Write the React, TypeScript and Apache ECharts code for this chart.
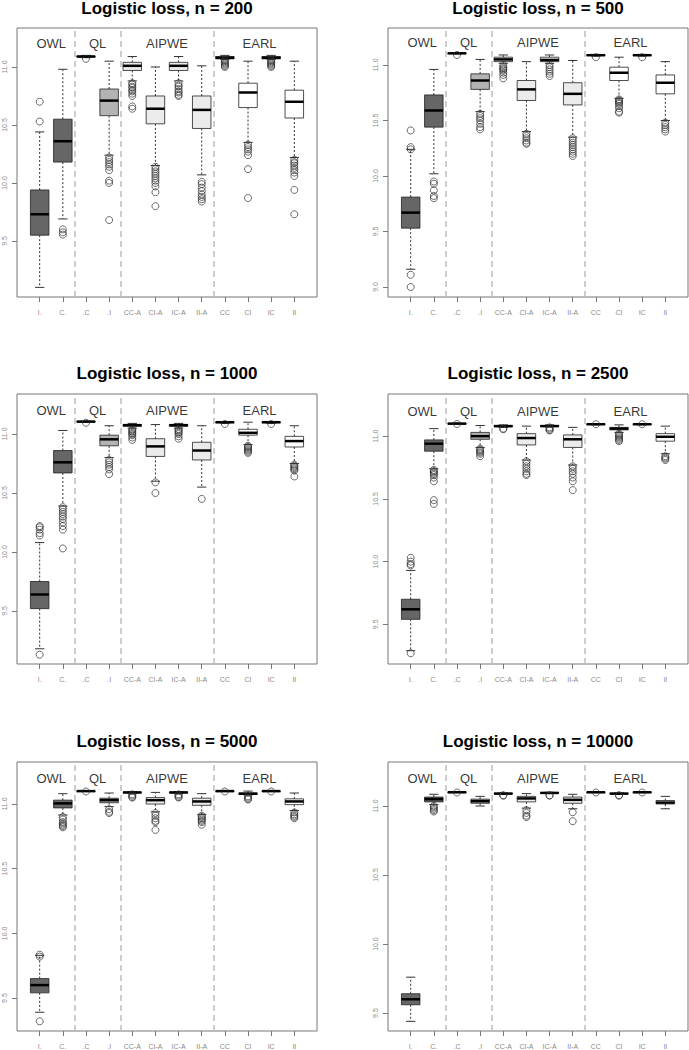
import React, { useEffect, useRef } from 'react';
import * as echarts from 'echarts';

// ---------- data ----------
const categories = ['I.', 'C.', '.C', '.I', 'CC-A', 'CI-A', 'IC-A', 'II-A', 'CC', 'CI', 'IC', 'II'];
const methodGroups = ['OWL', 'QL', 'AIPWE', 'EARL'];
const groupOfCategory = [0, 0, 1, 1, 2, 2, 2, 2, 3, 3, 3, 3];
const groupLabelPositions = [1.5, 3.5, 6.5, 10.5];
const groupDividers = [2.5, 4.5, 8.5];
const sampleSizes = [200, 500, 1000, 2500, 5000, 10000];

// box stats per category: [lower whisker, Q1, median, Q3, upper whisker]
const stats200 = [
  [9.10, 9.55, 9.73, 9.94, 10.44],
  [9.69, 10.18, 10.36, 10.55, 10.98],
  [11.08, 11.086, 11.09, 11.094, 11.10],
  [10.24, 10.58, 10.71, 10.81, 11.05],
  [10.88, 10.97, 11.01, 11.04, 11.09],
  [10.15, 10.51, 10.64, 10.75, 11.0],
  [10.88, 10.97, 11.01, 11.04, 11.09],
  [10.07, 10.47, 10.63, 10.75, 11.01],
  [11.065, 11.07, 11.08, 11.09, 11.10],
  [10.35, 10.65, 10.78, 10.86, 11.05],
  [11.065, 11.07, 11.08, 11.09, 11.10],
  [10.22, 10.56, 10.70, 10.80, 11.05],
];
const outliers200 = [
  [10.70, 10.53],
  [9.60, 9.575, 9.555],
  [11.07],
  [10.22, 10.20, 10.18, 10.16, 10.14, 10.11, 10.02, 10.0, 9.68],
  [10.86, 10.85, 10.83, 10.82, 10.80, 10.79, 10.77, 10.75, 10.66, 10.64],
  [10.14, 10.12, 10.10, 10.08, 10.06, 10.04, 10.02, 10.0, 9.97, 9.92, 9.80],
  [10.86, 10.84, 10.83, 10.81, 10.79, 10.78, 10.76, 10.75],
  [10.01, 9.99, 9.96, 9.93, 9.90, 9.88, 9.86, 9.84],
  [11.06, 11.05, 11.04, 11.03, 11.02, 11.01, 11.0],
  [10.33, 10.31, 10.29, 10.27, 10.24, 10.12, 9.87],
  [11.06, 11.05, 11.04, 11.03, 11.02, 11.01, 11.0],
  [10.20, 10.18, 10.17, 10.15, 10.13, 10.11, 10.09, 10.06, 9.94, 9.73],
];

const stats500 = [
  [9.16, 9.53, 9.67, 9.81, 10.24],
  [10.02, 10.44, 10.59, 10.73, 10.96],
  [11.10, 11.103, 11.105, 11.107, 11.11],
  [10.58, 10.78, 10.86, 10.92, 11.05],
  [11.015, 11.03, 11.05, 11.07, 11.09],
  [10.40, 10.68, 10.78, 10.86, 11.03],
  [11.015, 11.03, 11.045, 11.07, 11.09],
  [10.35, 10.64, 10.74, 10.84, 11.04],
  [11.08, 11.085, 11.088, 11.09, 11.095],
  [10.70, 10.86, 10.93, 10.98, 11.07],
  [11.08, 11.085, 11.088, 11.09, 11.095],
  [10.50, 10.74, 10.84, 10.91, 11.03],
];
const outliers500 = [
  [10.41, 10.26, 10.24, 9.11, 9.0],
  [9.95, 9.93, 9.87, 9.82, 9.80],
  [11.09],
  [10.56, 10.54, 10.52, 10.50, 10.47, 10.44, 10.42],
  [11.0, 10.98, 10.97, 10.96, 10.95, 10.93, 10.91, 10.88],
  [10.38, 10.36, 10.34, 10.32, 10.30, 10.29],
  [11.0, 10.98, 10.96, 10.94, 10.92, 10.90],
  [10.34, 10.32, 10.30, 10.28, 10.26, 10.24, 10.22, 10.20, 10.18],
  [11.07],
  [10.69, 10.68, 10.67, 10.66, 10.65, 10.63, 10.61, 10.58, 10.57],
  [11.07],
  [10.48, 10.46, 10.44, 10.42, 10.40],
];

const stats1000 = [
  [9.18, 9.52, 9.64, 9.75, 10.08],
  [10.39, 10.67, 10.76, 10.86, 11.03],
  [11.10, 11.103, 11.105, 11.107, 11.11],
  [10.80, 10.90, 10.955, 10.99, 11.07],
  [11.05, 11.065, 11.075, 11.08, 11.09],
  [10.60, 10.81, 10.895, 10.96, 11.08],
  [11.05, 11.065, 11.075, 11.08, 11.09],
  [10.55, 10.78, 10.86, 10.93, 11.07],
  [11.09, 11.095, 11.10, 11.102, 11.105],
  [10.91, 10.99, 11.01, 11.04, 11.10],
  [11.09, 11.095, 11.10, 11.102, 11.105],
  [10.75, 10.89, 10.94, 10.98, 11.07],
];
const outliers1000 = [
  [10.22, 10.21, 10.19, 10.16, 10.14, 9.13],
  [10.38, 10.36, 10.34, 10.32, 10.30, 10.28, 10.25, 10.22, 10.19, 10.03],
  [11.095],
  [10.78, 10.76, 10.74, 10.72, 10.70, 10.66],
  [11.04, 11.03, 11.02, 11.01, 11.0, 10.99, 10.97, 10.95],
  [10.59, 10.50],
  [11.04, 11.03, 11.02, 11.01, 11.0, 10.98, 10.96],
  [10.45],
  [11.085],
  [10.90, 10.89, 10.88, 10.87, 10.86, 10.85, 10.84],
  [11.085],
  [10.74, 10.73, 10.72, 10.71, 10.70, 10.69, 10.64],
];

const stats2500 = [
  [9.29, 9.54, 9.62, 9.70, 9.93],
  [10.74, 10.88, 10.94, 10.97, 11.06],
  [11.10, 11.10, 11.10, 11.10, 11.105],
  [10.91, 10.975, 11.0, 11.03, 11.085],
  [11.07, 11.075, 11.08, 11.085, 11.09],
  [10.81, 10.93, 10.985, 11.02, 11.08],
  [11.075, 11.078, 11.08, 11.085, 11.09],
  [10.77, 10.91, 10.975, 11.01, 11.07],
  [11.09, 11.093, 11.095, 11.097, 11.10],
  [11.03, 11.05, 11.06, 11.07, 11.09],
  [11.09, 11.093, 11.095, 11.097, 11.10],
  [10.86, 10.96, 10.995, 11.02, 11.08],
];
const outliers2500 = [
  [10.03, 10.0, 9.98, 9.97, 9.27],
  [10.73, 10.72, 10.71, 10.70, 10.69, 10.67, 10.64, 10.49, 10.46],
  [11.097],
  [10.90, 10.89, 10.88, 10.87, 10.86, 10.84],
  [11.06, 11.055],
  [10.80, 10.78, 10.76, 10.74, 10.72, 10.70, 10.69],
  [11.07, 11.06, 11.05, 11.045],
  [10.76, 10.74, 10.72, 10.70, 10.67, 10.64, 10.57],
  [11.095],
  [11.02, 11.01, 11.0, 10.99, 10.98, 10.97, 10.96],
  [11.095],
  [10.84, 10.83, 10.82, 10.81],
];

const stats5000 = [
  [9.39, 9.54, 9.60, 9.65, 9.83],
  [10.915, 10.97, 11.005, 11.03, 11.08],
  [11.10, 11.10, 11.10, 11.10, 11.10],
  [10.98, 11.01, 11.03, 11.045, 11.085],
  [11.08, 11.085, 11.09, 11.09, 11.095],
  [10.94, 11.0, 11.03, 11.05, 11.09],
  [11.08, 11.085, 11.09, 11.09, 11.095],
  [10.92, 10.99, 11.02, 11.045, 11.08],
  [11.10, 11.10, 11.10, 11.10, 11.105],
  [11.07, 11.075, 11.08, 11.085, 11.10],
  [11.10, 11.10, 11.10, 11.10, 11.105],
  [10.95, 10.995, 11.02, 11.04, 11.085],
];
const outliers5000 = [
  [9.835, 9.82, 9.32],
  [10.90, 10.88, 10.86, 10.85, 10.84, 10.83, 10.82],
  [11.097],
  [10.96, 10.94, 10.93],
  [11.075, 11.065, 11.055, 11.05],
  [10.93, 10.91, 10.89, 10.87, 10.86, 10.80],
  [11.075, 11.065, 11.055, 11.05],
  [10.91, 10.90, 10.89, 10.88, 10.87, 10.86, 10.84],
  [11.097],
  [11.06, 11.05, 11.04, 11.035],
  [11.097],
  [10.935, 10.92, 10.91, 10.90, 10.89],
];

const stats10000 = [
  [9.44, 9.56, 9.60, 9.64, 9.76],
  [11.01, 11.03, 11.05, 11.065, 11.085],
  [11.10, 11.10, 11.10, 11.10, 11.10],
  [11.0, 11.02, 11.035, 11.05, 11.07],
  [11.085, 11.088, 11.09, 11.092, 11.095],
  [10.985, 11.03, 11.055, 11.07, 11.09],
  [11.09, 11.093, 11.095, 11.097, 11.10],
  [10.98, 11.02, 11.045, 11.065, 11.085],
  [11.10, 11.10, 11.10, 11.10, 11.10],
  [11.085, 11.088, 11.09, 11.092, 11.095],
  [11.10, 11.10, 11.10, 11.10, 11.10],
  [10.98, 11.015, 11.025, 11.04, 11.07],
];
const outliers10000 = [
  [],
  [11.0, 10.99, 10.98, 10.97, 10.96],
  [11.098],
  [],
  [11.078, 11.075],
  [10.97, 10.95, 10.93, 10.92],
  [11.078, 11.075],
  [10.955, 10.89],
  [11.098],
  [11.078, 11.075],
  [11.098],
  [],
];

const allStats = [stats200, stats500, stats1000, stats2500, stats5000, stats10000];
const allOutliers = [outliers200, outliers500, outliers1000, outliers2500, outliers5000, outliers10000];

// axis limits and ticks
const yMins = [9.017, 8.91, 9.051, 9.184, 9.245, 9.37];
const yMaxs = [11.336, 11.333, 11.339, 11.336, 11.325, 11.319];
const yTicksA = [9.5, 10, 10.5, 11];
const yTicksB = [9, 9.5, 10, 10.5, 11];
const yTickSets = [yTicksA, yTicksB, yTicksA, yTicksA, yTicksA, yTicksA];
const categoryPositions = categories.map((_, i) => i + 1);
const groupLabelY = 11.2;

// ---------- styles / layout ----------
const FONT = '"Liberation Sans", Arial, sans-serif';
const boxFills = ['#666666', '#b3b3b3', '#ebebeb', '#ffffff'];
const colLefts = [17, 388];
const rowTops = [28, 394, 762];
const rowHeights = [269, 270, 269];
const titleOffsets = [19.4, 21, 21];
const panelWidth = 300;

const renderBox = (params: any, api: any) => {
  const x = api.value(0);
  const lo = api.value(1);
  const q1 = api.value(2);
  const med = api.value(3);
  const q3 = api.value(4);
  const hi = api.value(5);
  const g = api.value(6);
  const cx = api.coord([x, med])[0];
  const yMed = api.coord([x, med])[1];
  const yLo = api.coord([x, lo])[1];
  const yQ1 = api.coord([x, q1])[1];
  const yQ3 = api.coord([x, q3])[1];
  const yHi = api.coord([x, hi])[1];
  const bw = api.size([0.8, 0])[0];
  const half = bw / 2;
  const cap = bw / 4;
  const dash = { stroke: '#333', lineWidth: 1, lineDash: [2, 2], fill: null };
  const solid = { stroke: '#333', lineWidth: 1, fill: null };
  return {
    type: 'group',
    children: [
      { type: 'line', shape: { x1: cx, y1: yQ3, x2: cx, y2: yHi }, style: dash },
      { type: 'line', shape: { x1: cx, y1: yQ1, x2: cx, y2: yLo }, style: dash },
      { type: 'line', shape: { x1: cx - cap, y1: yHi, x2: cx + cap, y2: yHi }, style: solid },
      { type: 'line', shape: { x1: cx - cap, y1: yLo, x2: cx + cap, y2: yLo }, style: solid },
      {
        type: 'rect',
        shape: { x: cx - half, y: yQ3, width: bw, height: Math.max(yQ1 - yQ3, 0.5) },
        style: { fill: boxFills[g], stroke: '#222', lineWidth: 0.8 },
      },
      { type: 'line', shape: { x1: cx - half, y1: yMed, x2: cx + half, y2: yMed }, style: { stroke: '#000', lineWidth: 2.5 } },
    ],
  };
};

function buildOption() {
  const grid: any[] = [];
  const xAxis: any[] = [];
  const yAxis: any[] = [];
  const series: any[] = [];
  const graphic: any[] = [];

  sampleSizes.forEach((n, p) => {
    const col = p % 2;
    const row = Math.floor(p / 2);
    const left = colLefts[col];
    const top = rowTops[row];
    const height = rowHeights[row];
    grid.push({
      left,
      top,
      width: panelWidth,
      height,
      show: true,
      borderColor: '#777',
      borderWidth: 1,
      backgroundColor: 'transparent',
      containLabel: false,
      outerBoundsMode: 'none',
    });
    xAxis.push({
      gridIndex: p,
      type: 'value',
      min: 0.02,
      max: 12.98,
      splitLine: { show: false },
      axisLine: { show: false },
      axisTick: { show: true, length: 5, lineStyle: { color: '#777', width: 1 }, customValues: categoryPositions },
      axisLabel: {
        show: true,
        customValues: categoryPositions,
        formatter: (v: number) => categories[Math.round(v) - 1] ?? '',
        fontSize: 7,
        color: '#8a8a8a',
        fontFamily: FONT,
        margin: 12,
      },
    });
    yAxis.push({
      gridIndex: p,
      type: 'value',
      min: yMins[p],
      max: yMaxs[p],
      splitLine: { show: false },
      axisLine: { show: false },
      axisTick: { show: true, length: 5, lineStyle: { color: '#777', width: 1 }, customValues: yTickSets[p] },
      axisLabel: {
        show: true,
        customValues: yTickSets[p],
        formatter: (v: number) => v.toFixed(1),
        rotate: 90,
        fontSize: 7,
        color: '#8a8a8a',
        fontFamily: FONT,
        margin: 9,
      },
    });

    const stats = allStats[p];
    const outs = allOutliers[p];

    // group labels + dividers
    series.push({
      type: 'scatter',
      xAxisIndex: p,
      yAxisIndex: p,
      symbol: 'circle',
      symbolSize: 1,
      itemStyle: { color: 'rgba(0,0,0,0)' },
      silent: true,
      data: methodGroups.map((name, k) => ({ name, value: [groupLabelPositions[k], groupLabelY] })),
      label: {
        show: true,
        position: 'inside',
        formatter: '{b}',
        color: '#000',
        fontSize: 13,
        fontFamily: FONT,
      },
      markLine: {
        silent: true,
        symbol: ['none', 'none'],
        label: { show: false },
        lineStyle: { color: '#bdbdbd', type: [6, 4], width: 1.5 },
        data: groupDividers.map((d) => ({ xAxis: d })),
      },
      z: 1,
    });

    series.push({
      type: 'custom',
      xAxisIndex: p,
      yAxisIndex: p,
      renderItem: renderBox,
      encode: { x: 0, y: [1, 2, 3, 4, 5] },
      data: stats.map((s, i) => [categoryPositions[i], ...s, groupOfCategory[i]]),
      z: 2,
    });

    series.push({
      type: 'scatter',
      xAxisIndex: p,
      yAxisIndex: p,
      symbol: 'circle',
      symbolSize: 7,
      itemStyle: { color: 'rgba(0,0,0,0)', borderColor: '#333', borderWidth: 0.9 },
      data: outs.flatMap((vals, i) => vals.map((v) => [categoryPositions[i], v])),
      z: 3,
    });

    graphic.push({
      type: 'text',
      x: left + panelWidth / 2,
      y: top - titleOffsets[row],
      style: {
        text: `Logistic loss, n = ${n}`,
        font: `bold 17px ${FONT}`,
        fill: '#000',
        align: 'center',
        verticalAlign: 'middle',
        textAlign: 'center',
        textVerticalAlign: 'middle',
      },
    });
  });

  return {
    animation: false,
    backgroundColor: '#ffffff',
    grid,
    xAxis,
    yAxis,
    series,
    graphic,
  };
}

export default function App() {
  const ref = useRef<HTMLDivElement>(null);
  useEffect(() => {
    if (!ref.current) return;
    const chart = echarts.init(ref.current, null, { renderer: 'svg' });
    chart.setOption(buildOption() as any);
    return () => chart.dispose();
  }, []);
  return (
    <div
      ref={ref}
      style={{ position: 'absolute', left: 0, top: 0, width: 689, height: 1050, background: '#fff' }}
    />
  );
}
